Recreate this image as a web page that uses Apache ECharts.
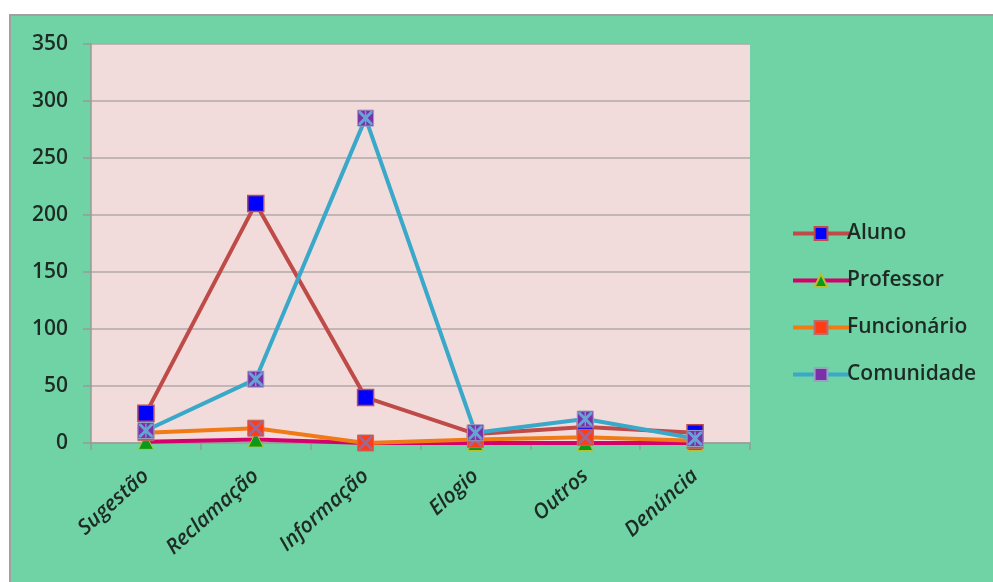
<!DOCTYPE html>
<html>
<head>
<meta charset="utf-8">
<script src="https://cdn.jsdelivr.net/npm/echarts@6/dist/echarts.min.js"></script>
<style>
html,body{margin:0;padding:0;background:#ffffff;width:993px;height:582px;overflow:hidden;}
#bg{position:absolute;left:9px;top:14px;right:0;bottom:0;background:#6fd3a5;border-top:2px solid #a0a0a0;border-left:2px solid #a0a0a0;}
#chart{position:absolute;left:0;top:0;width:993px;height:582px;}
</style>
</head>
<body>
<div id="bg"></div>
<div id="chart"></div>
<script>
const categories = ['Sugestão', 'Reclamação', 'Informação', 'Elogio', 'Outros', 'Denúncia'];
const aluno = [26, 210, 40, 8, 14, 9];
const professor = [1, 3, 0, 0, 0, 0];
const funcionario = [9, 13, 0, 3, 5, 2];
const comunidade = [11, 56, 285, 9, 21, 4];
const yTicks = [0, 50, 100, 150, 200, 250, 300, 350];

const font = '"Open Sans", "Noto Sans", sans-serif';
const xPath = 'path://M0,0 L3,0 L10,7 L17,0 L20,0 L20,3 L13,10 L20,17 L20,20 L17,20 L10,13 L3,20 L0,20 L0,17 L7,10 L0,3 Z';
const astPath = 'path://M0,0 L3,0 L9,6 L9,0 L11,0 L11,6 L17,0 L20,0 L20,3 L13,10 L20,17 L20,20 L17,20 L11,14 L11,20 L9,20 L9,14 L3,20 L0,20 L0,17 L7,10 L0,3 Z';

const chart = echarts.init(document.getElementById('chart'), null, {renderer: 'canvas'});
chart.setOption({
  backgroundColor: 'transparent',
  animation: false,
  textStyle: {fontFamily: font},
  grid: {left: 91, top: 44, right: 243, bottom: 139, show: true, backgroundColor: '#f2dcdb', borderWidth: 0},
  legend: {
    orient: 'vertical', left: 786, top: 218,
    itemWidth: 56, itemHeight: 16, itemGap: 26,
    lineStyle: {width: 4},
    data: ['Aluno', 'Professor', 'Funcionário', 'Comunidade'],
    textStyle: {fontSize: 21, fontWeight: 600, color: '#1e2a24', fontFamily: font, padding: [0, 0, 0, -7]}
  },
  xAxis: {
    type: 'category', data: categories, boundaryGap: true,
    axisLine: {show: true, lineStyle: {color: '#9a9a9a', width: 1.5}},
    axisTick: {show: true, length: 7, lineStyle: {color: '#9a9a9a', width: 1.5}},
    axisLabel: {rotate: 42, fontSize: 21, fontWeight: 600, fontStyle: 'italic', color: '#1e2a24', margin: 30, fontFamily: font}
  },
  yAxis: {
    type: 'value', min: yTicks[0], max: yTicks[yTicks.length - 1], interval: 50,
    axisLine: {show: true, lineStyle: {color: '#9a9a9a', width: 1.5}},
    axisTick: {show: true, length: 8, lineStyle: {color: '#9a9a9a', width: 1.5}},
    splitLine: {show: true, lineStyle: {color: '#b0a8a8', width: 1.5}},
    axisLabel: {fontSize: 21, fontWeight: 600, color: '#1e2a24', margin: 23, fontFamily: font}
  },
  series: [
    {name: 'Aluno', type: 'line', data: aluno, symbol: 'rect', symbolSize: 16, z: 2,
     lineStyle: {color: '#bf4b48', width: 4}, itemStyle: {color: '#0000ff', borderColor: '#bf4b48', borderWidth: 1.5}},
    {name: 'Professor', type: 'line', data: professor, symbol: 'triangle', symbolSize: 15, z: 3,
     lineStyle: {color: '#d4006c', width: 4}, itemStyle: {color: '#0a9a1a', borderColor: '#b8c030', borderWidth: 1}},
    {name: 'Funcionário', type: 'line', data: funcionario, symbol: 'rect', symbolSize: 16, z: 4,
     lineStyle: {color: '#f07a16', width: 4}, itemStyle: {color: '#ff3c14', borderColor: '#b07070', borderWidth: 1}},
    {name: 'Funcionário', type: 'scatter', data: funcionario, symbol: xPath, symbolSize: 14, z: 5, silent: true,
     itemStyle: {color: '#8a70b0'}},
    {name: 'Comunidade', type: 'line', data: comunidade, symbol: 'rect', symbolSize: 16, z: 6,
     lineStyle: {color: '#3aa8c8', width: 4}, itemStyle: {color: '#7a30a8', borderColor: '#9aa0c0', borderWidth: 1}},
    {name: 'Comunidade', type: 'scatter', data: comunidade, symbol: astPath, symbolSize: 14, z: 7, silent: true,
     itemStyle: {color: '#60c0e0'}}
  ]
});
</script>
</body>
</html>
